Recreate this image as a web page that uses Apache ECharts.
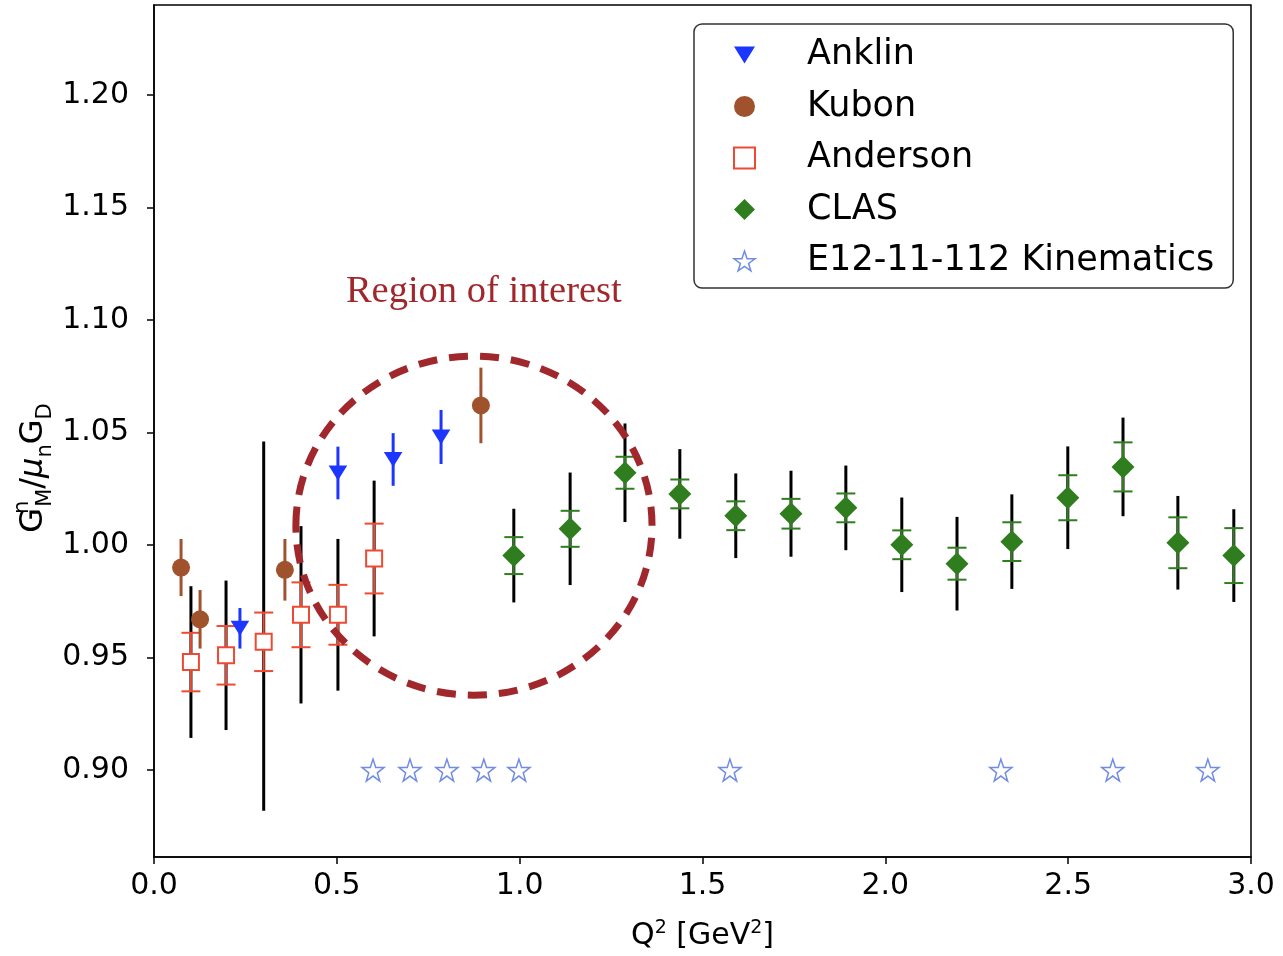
<!DOCTYPE html>
<html><head><meta charset="utf-8">
<script src="https://cdn.jsdelivr.net/npm/echarts@6/dist/echarts.min.js"></script>
<style>html,body{margin:0;padding:0;background:#fff}#c{width:1283px;height:956px}</style>
</head><body><div id="c"></div>
<script>
// ---------- data ----------
const xTicks = [0.0, 0.5, 1.0, 1.5, 2.0, 2.5, 3.0];
const yTicks = [0.90, 0.95, 1.00, 1.05, 1.10, 1.15, 1.20];

const anklinQ   = [0.235, 0.503, 0.654, 0.785];
const anklinG   = [0.963, 1.032, 1.038, 1.048];
const anklinErr = [0.009, 0.0117, 0.0117, 0.012];

const kubonQ   = [0.074, 0.126, 0.358, 0.894];
const kubonG   = [0.990, 0.967, 0.989, 1.062];
const kubonErr = [0.0127, 0.013, 0.0137, 0.0168];

const andersonQ       = [0.101, 0.197, 0.300, 0.402, 0.503, 0.602];
const andersonG       = [0.948, 0.951, 0.957, 0.969, 0.969, 0.994];
const andersonStat    = [0.013, 0.013, 0.013, 0.0144, 0.0133, 0.0155];
const andersonTotUp   = [0.0337, 0.0332, 0.089, 0.0394, 0.0337, 0.0346];
const andersonTotDown = [0.0337, 0.0332, 0.075, 0.0394, 0.0337, 0.0346];

const clasQ    = [0.984, 1.138, 1.288, 1.438, 1.591, 1.742, 1.892, 2.045, 2.196, 2.346, 2.499, 2.650, 2.800, 2.953];
const clasG    = [0.9953, 1.0072, 1.0321, 1.0227, 1.0130, 1.0139, 1.0165, 1.0001, 0.9917, 1.0015, 1.0210, 1.0347, 1.0010, 0.9953];
const clasStat = [0.0082, 0.0080, 0.0071, 0.0064, 0.0064, 0.0066, 0.0064, 0.0064, 0.0071, 0.0086, 0.0100, 0.0109, 0.0113, 0.0122];
const clasTot  = [0.0208, 0.0250, 0.0219, 0.0199, 0.0188, 0.0191, 0.0188, 0.0210, 0.0208, 0.0210, 0.0228, 0.0219, 0.0208, 0.0206];

const kinQ = [0.599, 0.700, 0.801, 0.902, 0.998, 1.575, 2.316, 2.622, 2.882];
const kinG = [0.90, 0.90, 0.90, 0.90, 0.90, 0.90, 0.90, 0.90, 0.90];

// annotation (data units)
const roiCenter = [0.875, 1.0086];
const roiRadius = [0.487, 0.0753];
const roiLabelPos = [0.902, 1.1123];
const roiLabel = 'Region of interest';

// ---------- styles ----------
const C_ANK = '#1c36ff', C_KUB = '#a0522d', C_AND = '#ee4a33', C_CLAS = '#2f7d1f', C_KIN = '#4d6fd9', C_ROI = '#a0282d';
const FONT = 'DejaVu Sans';
const STAR = 'path://M50,0 L61.8,35.1 L98.1,35.1 L68.8,56.8 L79.4,91 L50,70 L20.6,91 L31.2,56.8 L1.9,35.1 L38.2,35.1 Z';
const TRI_DOWN = 'path://M0,0 L20,0 L10,16 Z';

function vline(x, y1, y2, color, w) {
  return {type: 'line', shape: {x1: x, y1: y1, x2: x, y2: y2}, style: {stroke: color, lineWidth: w}};
}
function hline(x, y, half, color, w) {
  return {type: 'line', shape: {x1: x - half, y1: y, x2: x + half, y2: y}, style: {stroke: color, lineWidth: w}};
}

// simple error bar + marker (Anklin, Kubon)
function simpleRender(kind, color) {
  return function (params, api) {
    const x = api.value(0), y = api.value(1), e = api.value(2);
    const c = api.coord([x, y]);
    const t = api.coord([x, y + e])[1], b = api.coord([x, y - e])[1];
    const ch = [vline(c[0], t, b, color, 3)];
    if (kind === 'tri') {
      ch.push({type: 'polygon', shape: {points: [[c[0] - 9.3, c[1] - 7.5], [c[0] + 9.3, c[1] - 7.5], [c[0], c[1] + 7.5]]}, style: {fill: color}});
    } else {
      ch.push({type: 'circle', shape: {cx: c[0], cy: c[1], r: 9}, style: {fill: color}});
    }
    return {type: 'group', children: ch};
  };
}

// stat (coloured, capped) + total (black) error bars (Anderson, CLAS)
function dualRender(kind, color) {
  return function (params, api) {
    const x = api.value(0), y = api.value(1), s = api.value(2), tu = api.value(3), td = api.value(4);
    const c = api.coord([x, y]);
    const tt = api.coord([x, y + tu])[1], tb = api.coord([x, y - td])[1];
    const st = api.coord([x, y + s])[1], sb = api.coord([x, y - s])[1];
    const ch = [
      vline(c[0], tt, tb, '#000', 3),
      vline(c[0], st, sb, color, 2),
      hline(c[0], st, 9.5, color, 2),
      hline(c[0], sb, 9.5, color, 2)
    ];
    if (kind === 'square') {
      ch.push({type: 'rect', shape: {x: c[0] - 8, y: c[1] - 8, width: 16, height: 16}, style: {fill: '#fff', stroke: color, lineWidth: 2}});
    } else {
      ch.push({type: 'polygon', shape: {points: [[c[0], c[1] - 11.5], [c[0] + 11.5, c[1]], [c[0], c[1] + 11.5], [c[0] - 11.5, c[1]]]}, style: {fill: color}});
    }
    return {type: 'group', children: ch};
  };
}

const chart = echarts.init(document.getElementById('c'), null, {renderer: 'canvas'});

const option = {
  animation: false,
  backgroundColor: '#fff',
  grid: {left: 154, right: 32, top: 5, bottom: 97, show: true, borderColor: '#000', borderWidth: 1.5, backgroundColor: 'transparent'},
  xAxis: {
    type: 'value', min: 0, max: 3, interval: 0.5,
    axisLine: {show: true, onZero: false, lineStyle: {color: '#000', width: 1.5}},
    axisTick: {show: true, inside: false, length: 7, lineStyle: {color: '#000', width: 1.5}},
    axisLabel: {fontFamily: FONT, fontSize: 30, color: '#000', margin: 14, formatter: v => v.toFixed(1)},
    splitLine: {show: false},
    name: 'Q{s|2} [GeV{s|2}]',
    nameLocation: 'middle', nameGap: 62,
    nameTextStyle: {fontFamily: FONT, fontSize: 30, color: '#000',
      rich: {s: {fontFamily: FONT, fontSize: 19, verticalAlign: 'top', lineHeight: 34, color: '#000'}}}
  },
  yAxis: {
    type: 'value', min: 0.8614, max: 1.2399,
    axisLine: {show: true, onZero: false, lineStyle: {color: '#000', width: 1.5}},
    axisTick: {show: true, inside: false, length: 7, customValues: yTicks, lineStyle: {color: '#000', width: 1.5}},
    axisLabel: {fontFamily: FONT, fontSize: 30, color: '#000', margin: 25, customValues: yTicks, formatter: v => v.toFixed(2)},
    splitLine: {show: false}
  },
  legend: {
    orient: 'vertical', left: 694, top: 24,
    padding: [11, 19, 7, 39],
    backgroundColor: '#fff', borderColor: '#333', borderWidth: 1.5, borderRadius: 8,
    itemWidth: 21, itemHeight: 21, itemGap: 11.5,
    textStyle: {fontFamily: FONT, fontSize: 35, color: '#000', lineHeight: 40, padding: [0, 0, 0, 47]},
    data: [
      {name: 'Anklin', icon: TRI_DOWN, itemStyle: {color: C_ANK}},
      {name: 'Kubon', icon: 'circle', itemStyle: {color: C_KUB}},
      {name: 'Anderson', icon: 'rect', itemStyle: {color: '#fff', borderColor: C_AND, borderWidth: 2}},
      {name: 'CLAS', icon: 'diamond', itemStyle: {color: C_CLAS}},
      {name: 'E12-11-112 Kinematics', icon: STAR, itemStyle: {color: '#fff', borderColor: C_KIN, borderWidth: 1.5}}
    ]
  },
  graphic: [{
    type: 'text', x: 34, y: 468, rotation: Math.PI / 2,
    style: {
      text: 'G{sup|n}{sub|M}/{mu|μ}{sub|n}G{sub|D}',
      align: 'center', verticalAlign: 'middle', fill: '#000',
      font: '32px "DejaVu Sans"',
      rich: {
        sup: {fontFamily: FONT, fontSize: 21, verticalAlign: 'top', lineHeight: 44, width: 1, fill: '#000'},
        sub: {fontFamily: FONT, fontSize: 21, verticalAlign: 'bottom', lineHeight: 42, fill: '#000'},
        mu: {fontFamily: FONT, fontSize: 32, fontStyle: 'italic', fill: '#000'}
      }
    }
  }],
  series: [
    {name: 'Anklin', type: 'custom', z: 4, encode: {x: 0, y: 1},
      data: anklinQ.map((q, i) => [q, anklinG[i], anklinErr[i]]),
      itemStyle: {color: C_ANK}, renderItem: simpleRender('tri', C_ANK)},
    {name: 'Kubon', type: 'custom', z: 4, encode: {x: 0, y: 1},
      data: kubonQ.map((q, i) => [q, kubonG[i], kubonErr[i]]),
      itemStyle: {color: C_KUB}, renderItem: simpleRender('circle', C_KUB)},
    {name: 'Anderson', type: 'custom', z: 3, encode: {x: 0, y: 1},
      data: andersonQ.map((q, i) => [q, andersonG[i], andersonStat[i], andersonTotUp[i], andersonTotDown[i]]),
      itemStyle: {color: C_AND}, renderItem: dualRender('square', C_AND)},
    {name: 'CLAS', type: 'custom', z: 3, encode: {x: 0, y: 1},
      data: clasQ.map((q, i) => [q, clasG[i], clasStat[i], clasTot[i], clasTot[i]]),
      itemStyle: {color: C_CLAS}, renderItem: dualRender('diamond', C_CLAS)},
    {name: 'E12-11-112 Kinematics', type: 'scatter', z: 3,
      data: kinQ.map((q, i) => [q, kinG[i]]),
      symbol: STAR, symbolSize: 22,
      itemStyle: {color: '#fff', borderColor: C_KIN, borderWidth: 1.5}}
  ]
};
chart.setOption(option);

// ROI annotation placed through the axes' scales
const pc = chart.convertToPixel({gridIndex: 0}, roiCenter);
const pe = chart.convertToPixel({gridIndex: 0}, [roiCenter[0] + roiRadius[0], roiCenter[1] + roiRadius[1]]);
const pt = chart.convertToPixel({gridIndex: 0}, roiLabelPos);
const g = option.graphic.slice();
g.push({
  type: 'ellipse', z: 50,
  shape: {cx: pc[0], cy: pc[1], rx: pe[0] - pc[0], ry: pc[1] - pe[1]},
  style: {fill: 'none', stroke: C_ROI, lineWidth: 7, lineDash: [19, 12]}
});
g.push({
  type: 'text', z: 50, x: pt[0], y: pt[1],
  style: {text: roiLabel, align: 'center', verticalAlign: 'middle', fill: C_ROI, font: '38.5px "Liberation Serif"'}
});
chart.setOption({graphic: g});
</script>
</body></html>
